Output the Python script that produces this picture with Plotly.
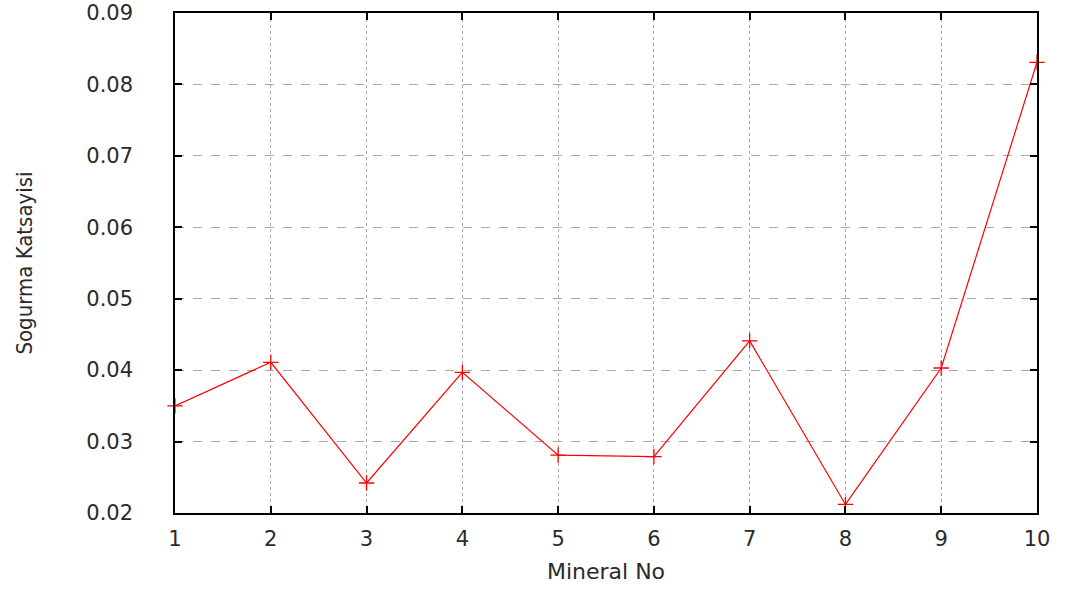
import plotly.graph_objects as go

# Absorption coefficient per mineral sample
mineral_no = [1, 2, 3, 4, 5, 6, 7, 8, 9, 10]
sogurma = [0.0350, 0.0411, 0.0242, 0.0397, 0.0281, 0.0279, 0.0441, 0.0212, 0.0403, 0.0831]

x_ticks = [1, 2, 3, 4, 5, 6, 7, 8, 9, 10]
y_ticks = [0.02, 0.03, 0.04, 0.05, 0.06, 0.07, 0.08, 0.09]
y_labels = ["0.02", "0.03", "0.04", "0.05", "0.06", "0.07", "0.08", "0.09"]

fig = go.Figure()
fig.add_trace(go.Scatter(
    x=mineral_no, y=sogurma,
    mode="lines+markers",
    line=dict(color="#ff0000", width=1.2),
    marker=dict(symbol="cross-thin", size=11, line=dict(color="#ff0000", width=1.3)),
    showlegend=False,
    cliponaxis=False,
))

tick_font = dict(family="DejaVu Sans", size=21, color="#2a2a2a")

fig.update_layout(
    width=1070, height=589,
    margin=dict(l=175, r=33, t=13, b=76),
    paper_bgcolor="white", plot_bgcolor="white",
    xaxis=dict(
        range=[1, 10], tickvals=x_ticks, ticktext=[str(v) for v in x_ticks],
        showline=True, linecolor="#000000", linewidth=1.5, mirror="ticks",
        ticks="inside", ticklen=7, tickcolor="#000000", tickwidth=1.5,
        showgrid=True, gridcolor="#a8a8a8", gridwidth=1, griddash="dot",
        zeroline=False, tickfont=tick_font, ticklabelstandoff=6, automargin=False,
        title=dict(text="Mineral No", font=dict(family="DejaVu Sans", size=22, color="#2a2a2a"), standoff=14),
    ),
    yaxis=dict(
        range=[0.02, 0.09], tickvals=y_ticks, ticktext=y_labels,
        showline=True, linecolor="#000000", linewidth=1.5, mirror="ticks",
        ticks="inside", ticklen=7, tickcolor="#000000", tickwidth=1.5,
        showgrid=True, gridcolor="#a8a8a8", gridwidth=1, griddash="dash",
        zeroline=False, tickfont=tick_font, ticklabelstandoff=36, automargin=False,
        title=dict(text="Sogurma Katsayisi", font=dict(family="DejaVu Sans Condensed", size=22, color="#2a2a2a"), standoff=48),
    ),
)

fig.write_html("out.html")
